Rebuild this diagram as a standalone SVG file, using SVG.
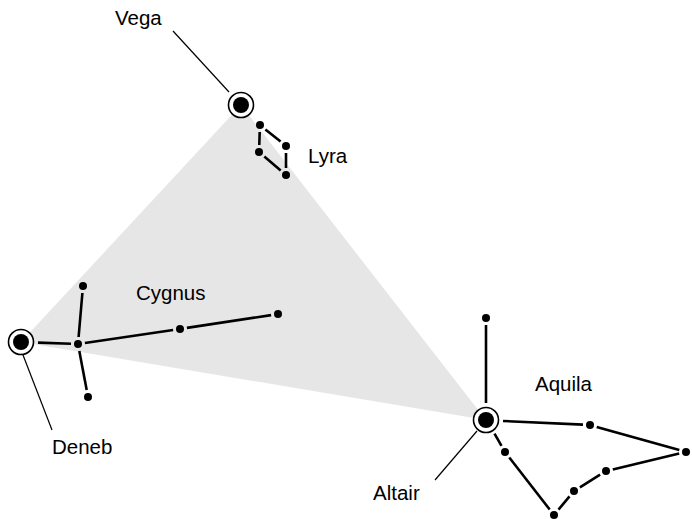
<svg xmlns="http://www.w3.org/2000/svg" width="692" height="519" viewBox="0 0 692 519">
  <style>
    .tri { fill: #e6e6e6; stroke: none; }
    .link { stroke: #000; stroke-width: 2.6; fill: none; stroke-linecap: butt; }
    .leader { stroke: #000; stroke-width: 1.2; fill: none; }
    .star { fill: #000; }
    .ring { fill: #fff; stroke: #000; stroke-width: 1.6; }
    .lbl { font-family: "Liberation Sans", Arial, Helvetica, sans-serif; font-size: 20.5px; fill: #000; }
  </style>
  <rect x="0" y="0" width="692" height="519" fill="#fff"/>
  <polygon id="summer-triangle" class="tri" points="241,105 21,342 486,420"/>

  <g id="connectors">
    <!-- leaders -->
    <line class="leader" x1="173" y1="31" x2="229" y2="92"/>
    <line class="leader" x1="23" y1="355" x2="52" y2="430"/>
    <line class="leader" x1="477" y1="431" x2="435" y2="480"/>
    <!-- Lyra -->
    <line class="link" x1="265.4" y1="129.4" x2="280.6" y2="141.6"/>
    <line class="link" x1="259.7" y1="132" x2="259.3" y2="145"/>
    <line class="link" x1="264.3" y1="156.5" x2="280.7" y2="170.5"/>
    <line class="link" x1="286" y1="153" x2="286" y2="168"/>
    <!-- Cygnus -->
    <line class="link" x1="38" y1="342.6" x2="71" y2="343.8"/>
    <line class="link" x1="78.6" y1="337" x2="82.4" y2="293"/>
    <line class="link" x1="79.3" y1="350.9" x2="86.7" y2="390.1"/>
    <line class="link" x1="84.9" y1="343" x2="173.1" y2="330"/>
    <line class="link" x1="186.9" y1="327.9" x2="271.1" y2="315.1"/>
    <!-- Aquila -->
    <line class="link" x1="486" y1="403" x2="486" y2="325"/>
    <line class="link" x1="503" y1="421" x2="583" y2="424.6"/>
    <line class="link" x1="596.7" y1="426.9" x2="679.3" y2="450.1"/>
    <line class="link" x1="679.2" y1="453.6" x2="612.8" y2="469.4"/>
    <line class="link" x1="600.1" y1="474.7" x2="579.9" y2="487.3"/>
    <line class="link" x1="569.5" y1="496.4" x2="558.5" y2="509.6"/>
    <line class="link" x1="549.7" y1="509.5" x2="509.3" y2="457.5"/>
    <line class="link" x1="501.5" y1="445.9" x2="494.5" y2="433.7"/>
  </g>

  <g id="vega">
    <circle class="ring" cx="241" cy="105" r="12.5"/>
    <circle class="star" cx="241" cy="105" r="8"/>
    <text class="lbl" x="115" y="25">Vega</text>
  </g>
  <g id="lyra">
    <circle class="star" cx="260" cy="125" r="4"/>
    <circle class="star" cx="286" cy="146" r="4"/>
    <circle class="star" cx="259" cy="152" r="4"/>
    <circle class="star" cx="286" cy="175" r="4"/>
    <text class="lbl" x="308" y="163">Lyra</text>
  </g>
  <g id="deneb">
    <circle class="ring" cx="21" cy="342" r="12.5"/>
    <circle class="star" cx="21" cy="342" r="8"/>
    <text class="lbl" x="52" y="454">Deneb</text>
  </g>
  <g id="cygnus">
    <circle class="star" cx="78" cy="344" r="4"/>
    <circle class="star" cx="83" cy="286" r="4"/>
    <circle class="star" cx="88" cy="397" r="4"/>
    <circle class="star" cx="180" cy="329" r="4"/>
    <circle class="star" cx="278" cy="314" r="4"/>
    <text class="lbl" x="136" y="300">Cygnus</text>
  </g>
  <g id="altair">
    <circle class="ring" cx="486" cy="420" r="12.5"/>
    <circle class="star" cx="486" cy="420" r="8"/>
    <text class="lbl" x="373" y="500">Altair</text>
  </g>
  <g id="aquila">
    <circle class="star" cx="486" cy="318" r="4"/>
    <circle class="star" cx="590" cy="425" r="4"/>
    <circle class="star" cx="686" cy="452" r="4"/>
    <circle class="star" cx="606" cy="471" r="4"/>
    <circle class="star" cx="574" cy="491" r="4"/>
    <circle class="star" cx="554" cy="515" r="4"/>
    <circle class="star" cx="505" cy="452" r="4"/>
    <text class="lbl" x="535" y="391">Aquila</text>
  </g>
</svg>
